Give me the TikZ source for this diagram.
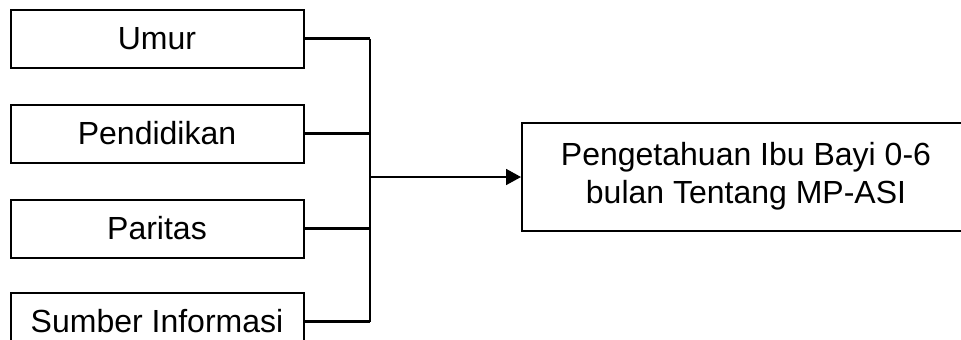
\documentclass[tikz,border=0pt]{standalone}
\usepackage{fontspec}
\setmainfont{Liberation Sans}
\usetikzlibrary{positioning, arrows.meta}

\begin{document}
\begin{tikzpicture}[
  >={Triangle[length=7.5pt, width=8pt]},
  faktor/.style={draw, line width=1pt, rectangle, minimum width=146.5pt, minimum height=29pt, inner sep=0pt, font=\fontsize{16}{19}\selectfont, align=center},
  hasil/.style={draw, line width=1pt, rectangle, minimum width=240pt, minimum height=54pt, inner sep=0pt, font=\fontsize{16}{19}\selectfont},
  link/.style={line width=1.3pt},
  flow/.style={->, line width=0.9pt}
]
\useasboundingbox (0,0) rectangle (480.5pt,-169.5pt);

% faktor (kiri)
\node[faktor] (Umur) at (78.5pt,-19.25pt) {Umur};
\node[faktor] (Pend) [below=17.5pt of Umur] {Pendidikan};
\node[faktor] (Par)  [below=17.5pt of Pend] {Paritas};
\node[faktor, yshift=1pt] (Sumber) [below=17.5pt of Par] {Sumber Informasi};

% hasil (kanan), terpotong di tepi kanan
\node[hasil, anchor=west] (Hasil) at (260.5pt,-88.5pt)
  {\begin{tabular}{@{}c@{}}Pengetahuan Ibu Bayi 0-6\\bulan Tentang MP-ASI\end{tabular}\hspace*{16pt}};

% titik gabung
\coordinate (join) at (185pt,-88.5pt);

% garis penghubung
\draw[link] (Umur.east) -- (Umur.east -| join);
\draw[link] (Pend.east) -- (Pend.east -| join);
\draw[link] (Par.east) -- (Par.east -| join);
\draw[link] (Sumber.east) -- (Sumber.east -| join);
\draw[link] (Umur.east -| join) -- (Sumber.east -| join);

\draw[flow] (join) -- (Hasil.west);

\end{tikzpicture}
\end{document}
